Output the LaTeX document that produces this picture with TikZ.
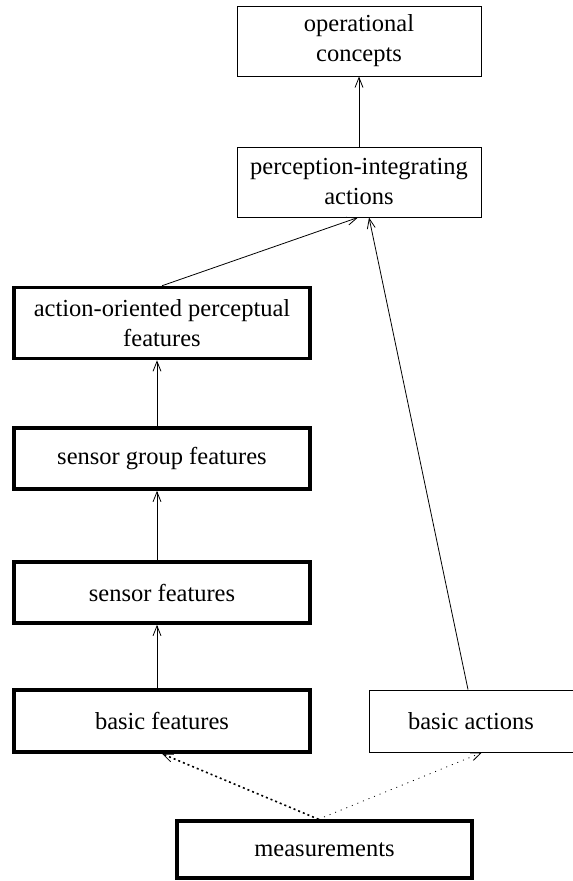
\documentclass[tikz,border=0pt]{standalone}
\usepackage{fontspec}
\setmainfont{Liberation Serif}
\usetikzlibrary{arrows.meta,positioning}

\begin{document}
\begin{tikzpicture}[
  x=1pt,
  y=-1pt,
  line cap=butt,
  line join=miter,
  every node/.style={font=\fontsize{24.5}{30}\selectfont},
  thinbox/.style={draw,line width=1pt,inner sep=0pt,align=center},
  thickbox/.style={thinbox,line width=3.5pt},
  uplink/.style={line width=.8pt,-{Straight Barb[length=10pt,width=8pt,line width=.8pt]}},
  rawlinkthick/.style={uplink,line width=1.6pt,dash pattern=on 2pt off 3pt},
  rawlinkthin/.style={uplink,dash pattern=on 1pt off 5pt}
]
% Bounding box.
\useasboundingbox (0,0) rectangle (573,881);

% Upper level.
\node[thinbox,minimum width=244pt,minimum height=70pt] (opcon) at (359,41)
  {operational\\concepts};
\node[thinbox,minimum width=244pt,minimum height=70pt] (percep) at (359,182)
  {perception-integrating\\actions};

% Feature column.
\node[thickbox,minimum width=296pt,minimum height=71pt] (aofeat) at (162,323)
  {action-oriented perceptual\\features};
\node[thickbox,minimum width=296pt,minimum height=61pt] (sgfeat) at (162,458.5)
  {sensor group features};
\node[thickbox,minimum width=296pt,minimum height=61pt] (sfeat) at (162,592.5)
  {sensor features};
\node[thickbox,minimum width=296pt,minimum height=62pt] (bfeat) at (162,721)
  {basic features};
\node[thinbox,minimum width=204pt,minimum height=62pt] (bact) at (471,721)
  {basic actions};
\node[thickbox,minimum width=295pt,minimum height=57pt] (meas) at (324.5,849.5)
  {measurements};

% Connectors.
\draw[uplink] (percep.north) -- (opcon.south);
\draw[uplink] (aofeat.north) -- ([xshift=-1pt]percep.south);
\draw[uplink] ([xshift=-3pt]bact.north) -- ([xshift=10pt]percep.south);
\draw[uplink] ([xshift=-5pt]sgfeat.north) -- ([xshift=-5pt]aofeat.south);
\draw[uplink] ([xshift=-5pt]sfeat.north) -- ([xshift=-5pt]sgfeat.south);
\draw[uplink] ([xshift=-5pt]bfeat.north) -- ([xshift=-5pt]sfeat.south);
\draw[rawlinkthick] ([xshift=-6pt]meas.north) -- (bfeat.south);
\draw[rawlinkthin] ([xshift=-6pt]meas.north) -- ([xshift=11pt]bact.south);
\end{tikzpicture}
\end{document}
